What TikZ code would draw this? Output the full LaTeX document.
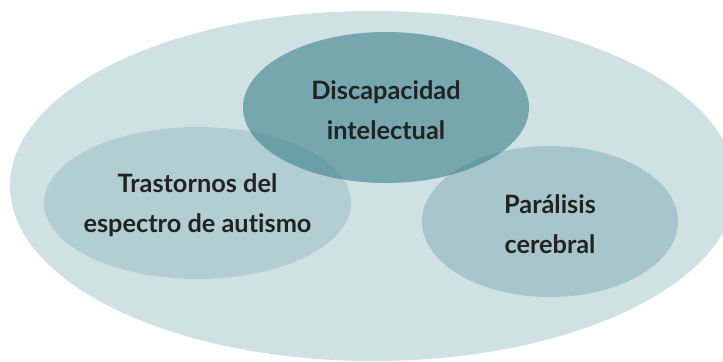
\documentclass[tikz,border=0pt]{standalone}
\usepackage{fontspec}
\setmainfont{Lato}[Ligatures={NoCommon,NoContextual}]
\usepackage{tikz}
\usetikzlibrary{shapes.geometric}

\definecolor{fondo}{HTML}{D0E1E3}
\definecolor{verde}{HTML}{3A808B}
\definecolor{texto}{HTML}{222222}

\begin{document}
\begin{tikzpicture}[x=0.75pt,y=-0.75pt,
  mancha/.style={ellipse,inner sep=0pt,fill=verde},
  rotulo/.style={align=center,text=texto,yshift=-2pt,
    font=\fontsize{19}{30}\selectfont\bfseries}]
\useasboundingbox (0,0) rectangle (723,361);
\clip (0,0) rectangle (723,361);

\fill[fondo] (373,186) ellipse (363 and 175);

\node[mancha,fill opacity=0.19,minimum width=230.25pt,minimum height=114pt] (tea) at (197.5,203) {};
\node[mancha,fill opacity=0.27,minimum width=192pt,minimum height=113.25pt] (pc) at (550,221.5) {};
\node[mancha,fill opacity=0.6,minimum width=214.5pt,minimum height=113.25pt] (di) at (386,107.5) {};

\node[rotulo] (teatxt) at (tea) {Trastornos del\\espectro de autismo};
\node[rotulo] (pctxt) at (pc) {Parálisis\\cerebral};
\node[rotulo] (ditxt) at (di) {Discapacidad\\intelectual};

\end{tikzpicture}
\end{document}
